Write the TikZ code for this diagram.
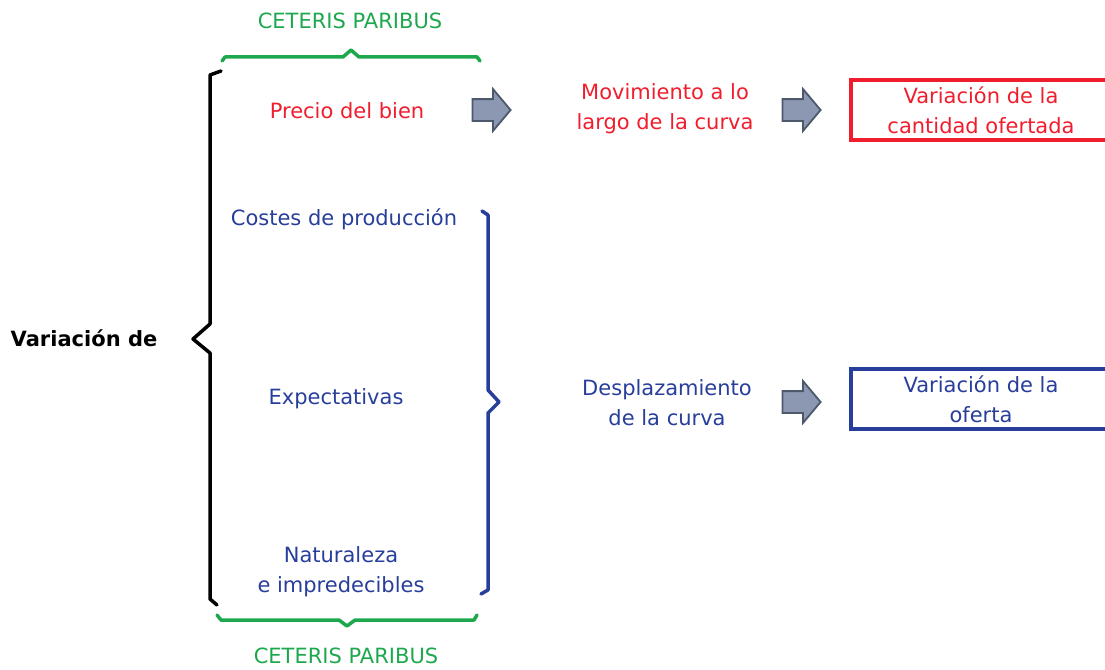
\documentclass[tikz,border=0pt]{standalone}
\usepackage{fontspec}
\setmainfont{DejaVu Sans}
\usetikzlibrary{shapes.arrows}
\definecolor{rojo}{RGB}{240,30,45}
\definecolor{azul}{RGB}{40,62,155}
\definecolor{verde}{RGB}{30,168,78}
\definecolor{flechagris}{RGB}{140,152,178}
\definecolor{bordegris}{RGB}{78,88,108}
\tikzset{
  txt/.style={align=center, font=\fontsize{21}{30}\selectfont},
  flecha/.style={single arrow, draw=bordegris, fill=flechagris, line width=1.8pt,
    minimum height=38pt, inner sep=10pt, single arrow head extend=10pt,
    single arrow tip angle=100},
  caja/.style={draw, line width=3.5pt, align=center, minimum width=260pt,
    minimum height=60pt, font=\fontsize{21}{30}\selectfont},
  llave/.style={line width=3.5pt, line join=round, line cap=round}
}
\begin{document}
\begin{tikzpicture}[x=1pt,y=-1pt]
	\useasboundingbox (0,0) rectangle (1105,669);
	\node[txt, verde] (CPa) at (350,21) {CETERIS PARIBUS};
	\node[txt, verde] (CPb) at (346,656) {CETERIS PARIBUS};
	\node[txt, font=\fontsize{21}{30}\selectfont\bfseries] (V) at (84,338) {Variación de};%
	\node[txt, rojo] (PB) at (347,111) {Precio del bien};
	\node[txt, azul] (CP) at (344,219) {Costes de producción};
	\node[txt, azul] (E) at (336,399) {Expectativas};
	\node[txt, azul] (N) at (341,572) {Naturaleza\\e impredecibles};
	\node[txt, rojo] (M) at (665,109) {Movimiento a lo\\largo de la curva};
	\node[txt, azul] (D) at (667,403) {Desplazamiento\\de la curva};
	\node[caja, draw=rojo, text=rojo] (VC) at (981,110) {Variación de la\\cantidad ofertada};
	\node[caja, draw=azul, text=azul] (VO) at (981,399) {Variación de la\\oferta};

	\node[flecha] (F1) at (487,110) {};
	\node[flecha] (F2) at (797,110) {};
	\node[flecha] (F3) at (797,402) {};

	% llaves
	\draw[llave, verde] (222,61) -- (225,57) -- (343,57) -- (351,50) -- (359,57) -- (477,57) -- (480,61);
	\draw[llave, verde] (217,615) -- (221,620) -- (339,620) -- (347,626) -- (355,620) -- (474,620) -- (477,615);
	\draw[llave] (221,71) -- (210,75) -- (210,324) -- (193,339) -- (210,353) -- (210,599) -- (217,605);
	\draw[llave, azul] (482,211) -- (488,215) -- (488,390) -- (499,402) -- (488,413) -- (488,590) -- (481,594);
\end{tikzpicture}
\end{document}
